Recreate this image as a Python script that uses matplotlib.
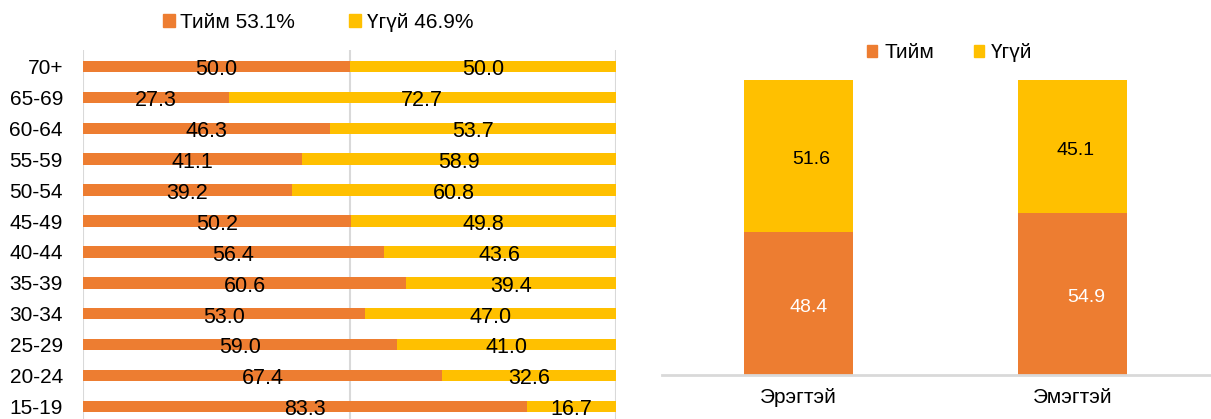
import numpy as np
import matplotlib
matplotlib.use("Agg")
import matplotlib.pyplot as plt
from matplotlib.patches import Patch

plt.rcParams['font.family'] = ['Liberation Sans', 'DejaVu Sans']

# насны бүлгээр
age_groups = ['15-19', '20-24', '25-29', '30-34', '35-39', '40-44',
              '45-49', '50-54', '55-59', '60-64', '65-69', '70+']
age_yes = [83.3, 67.4, 59.0, 53.0, 60.6, 56.4, 50.2, 39.2, 41.1, 46.3, 27.3, 50.0]
age_no = [16.7, 32.6, 41.0, 47.0, 39.4, 43.6, 49.8, 60.8, 58.9, 53.7, 72.7, 50.0]
legend_left = ['Тийм 53.1%', 'Үгүй 46.9%']

# хүйсээр
sexes = ['Эрэгтэй', 'Эмэгтэй']
sex_yes = [48.4, 54.9]
sex_no = [51.6, 45.1]
legend_right = ['Тийм', 'Үгүй']

ORANGE = '#ED7D31'
YELLOW = '#FFC000'
GRID = '#D9D9D9'

W, H = 1211, 419
fig = plt.figure(figsize=(W / 100, H / 100), dpi=100)

# ---- зүүн график ----
ax1 = fig.add_axes([83 / W, 0, 533 / W, (H - 50) / H])
y = np.arange(len(age_groups))
ax1.barh(y, age_yes, height=0.37, color=ORANGE, zorder=2)
ax1.barh(y, age_no, left=age_yes, height=0.37, color=YELLOW, zorder=2)
for i in range(len(age_groups)):
    for xc, v in [(age_yes[i] / 2, age_yes[i]), (age_yes[i] + age_no[i] / 2, age_no[i])]:
        ax1.annotate(f'{v:.1f}', (xc, y[i]), xytext=(0, -6.3), textcoords='offset points',
                     ha='center', va='baseline', fontsize=15.5, color='black', zorder=3)
ax1.set_xlim(0, 100)
ax1.set_ylim(-0.403, 11.53)
ax1.set_xticks([0, 50, 100])
ax1.set_xticklabels([])
ax1.tick_params(axis='x', length=0)
ax1.grid(axis='x', color=GRID, lw=1.5)
ax1.set_axisbelow(True)
ax1.set_yticks(y)
ax1.set_yticklabels(age_groups, fontsize=15)
ax1.tick_params(axis='y', length=0, pad=14.4)
for s in ax1.spines.values():
    s.set_visible(False)

handles = [Patch(color=ORANGE), Patch(color=YELLOW)]
fig.legend(handles, legend_left, loc='center', bbox_to_anchor=(318 / W, 1 - 22 / H),
           ncol=2, frameon=False, fontsize=15, handlelength=0.58, handleheight=0.58,
           handletextpad=0.25, columnspacing=2.6, borderpad=0, borderaxespad=0)

# ---- баруун график ----
ax2 = fig.add_axes([662 / W, (H - 375) / H, (W - 662) / W, 295 / H])
x = np.arange(len(sexes))
ax2.bar(x, sex_yes, width=0.4, color=ORANGE)
ax2.bar(x, sex_no, bottom=sex_yes, width=0.4, color=YELLOW)
nudge_px = [[10, 13], [14, 3]]  # [тийм, үгүй] хэвтээ шилжилт
for i in range(len(sexes)):
    ax2.annotate(f'{sex_yes[i]:.1f}', (x[i], sex_yes[i] / 2),
                 xytext=(nudge_px[i][0] * 0.72, -5.8), textcoords='offset points',
                 ha='center', va='baseline', fontsize=14, color='white')
    ax2.annotate(f'{sex_no[i]:.1f}', (x[i], sex_yes[i] + sex_no[i] / 2),
                 xytext=(nudge_px[i][1] * 0.72, -5.8), textcoords='offset points',
                 ha='center', va='baseline', fontsize=14, color='black')
ax2.set_xlim(-0.498, 1.505)
ax2.set_ylim(0, 100)
ax2.set_xticks(x)
ax2.set_xticklabels(sexes, fontsize=15)
ax2.tick_params(axis='x', length=0, pad=9)
ax2.set_yticks([])
for k in ['top', 'right', 'left']:
    ax2.spines[k].set_visible(False)
ax2.spines['bottom'].set_color(GRID)
ax2.spines['bottom'].set_linewidth(2)

fig.legend(handles, legend_right, loc='center', bbox_to_anchor=(950 / W, 1 - 53 / H),
           ncol=2, frameon=False, fontsize=15, handlelength=0.48, handleheight=0.48,
           handletextpad=0.35, columnspacing=1.9, borderpad=0, borderaxespad=0)

fig.savefig('out.png', dpi=100)
